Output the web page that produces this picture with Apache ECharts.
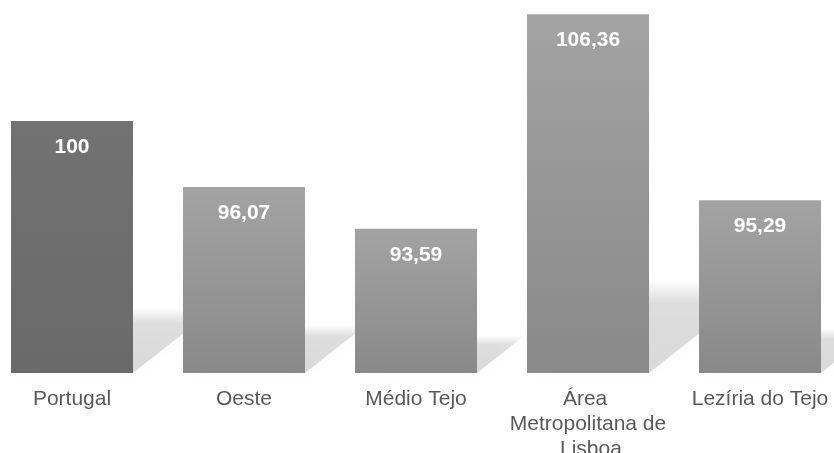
<!DOCTYPE html>
<html>
<head>
<meta charset="utf-8">
<script src="https://cdn.jsdelivr.net/npm/echarts@6/dist/echarts.min.js"></script>
<style>
  html, body { margin: 0; padding: 0; background: #fff; }
  #chart { width: 834px; height: 453px; }
</style>
</head>
<body>
<div id="chart"></div>
<script>
const categories = ["Portugal", "Oeste", "Médio Tejo", "Área Metropolitana de Lisboa", "Lezíria do Tejo"];
const values = [100, 96.07, 93.59, 106.36, 95.29];
const axisMin = 85;
const axisMax = 107;

const chart = echarts.init(document.getElementById("chart"));

function barColor(i) {
  if (i === 0) {
    return new echarts.graphic.LinearGradient(0, 0, 0, 1, [
      { offset: 0, color: "#727272" },
      { offset: 1, color: "#6a6a6a" },
    ]);
  }
  return new echarts.graphic.LinearGradient(0, 0, 0, 1, [
    { offset: 0, color: "#a3a3a3" },
    { offset: 1, color: "#898989" },
  ]);
}

const option = {
  animation: false,
  grid: {
    left: -14,
    right: -12,
    top: 3.4,
    bottom: 80,
    containLabel: false,
    outerBoundsMode: "none",
  },
  xAxis: {
    type: "category",
    data: categories,
    axisLine: { show: false },
    axisTick: { show: false },
    axisLabel: {
      color: "#595959",
      fontSize: 21,
      fontFamily: "Liberation Sans, Arial, sans-serif",
      lineHeight: 25,
      margin: 14,
      interval: 0,
      width: 160,
      overflow: "break",
    },
  },
  yAxis: {
    type: "value",
    min: axisMin,
    max: axisMax,
    show: false,
    splitLine: { show: false },
  },
  series: [
    {
      // floor shadow behind each bar
      type: "custom",
      z: 1,
      silent: true,
      data: values.map((v, i) => [i, v]),
      renderItem: function (params, api) {
        const base = api.coord([api.value(0), axisMin]);
        const top = api.coord([api.value(0), api.value(1)]);
        const h = base[1] - top[1];
        const w = 122;
        const x0 = base[0] - w / 2;
        const x1 = base[0] + w / 2;
        const yb = base[1];
        const sh = h * 0.26;
        const dx = h * 0.33;
        return {
          type: "polygon",
          shape: {
            points: [[x0, yb], [x1, yb], [x1 + dx, yb - sh], [x0 + dx, yb - sh]],
          },
          style: {
            fill: new echarts.graphic.LinearGradient(0, 1, 0, 0, [
              { offset: 0, color: "rgba(0,0,0,0.14)" },
              { offset: 0.75, color: "rgba(0,0,0,0.12)" },
              { offset: 1, color: "rgba(0,0,0,0.0)" },
            ]),
            shadowBlur: 14,
            shadowColor: "rgba(0,0,0,0.10)",
          },
        };
      },
    },
    {
      type: "bar",
      z: 2,
      barWidth: 122,
      data: values.map((v, i) => ({ value: v, itemStyle: { color: barColor(i) } })),
      label: {
        show: true,
        position: "insideTop",
        distance: 16,
        color: "#fff",
        fontWeight: "bold",
        fontSize: 21,
        fontFamily: "Liberation Sans, Arial, sans-serif",
        formatter: (p) => String(p.value).replace(".", ","),
      },
    },
  ],
};
chart.setOption(option);
</script>
</body>
</html>
